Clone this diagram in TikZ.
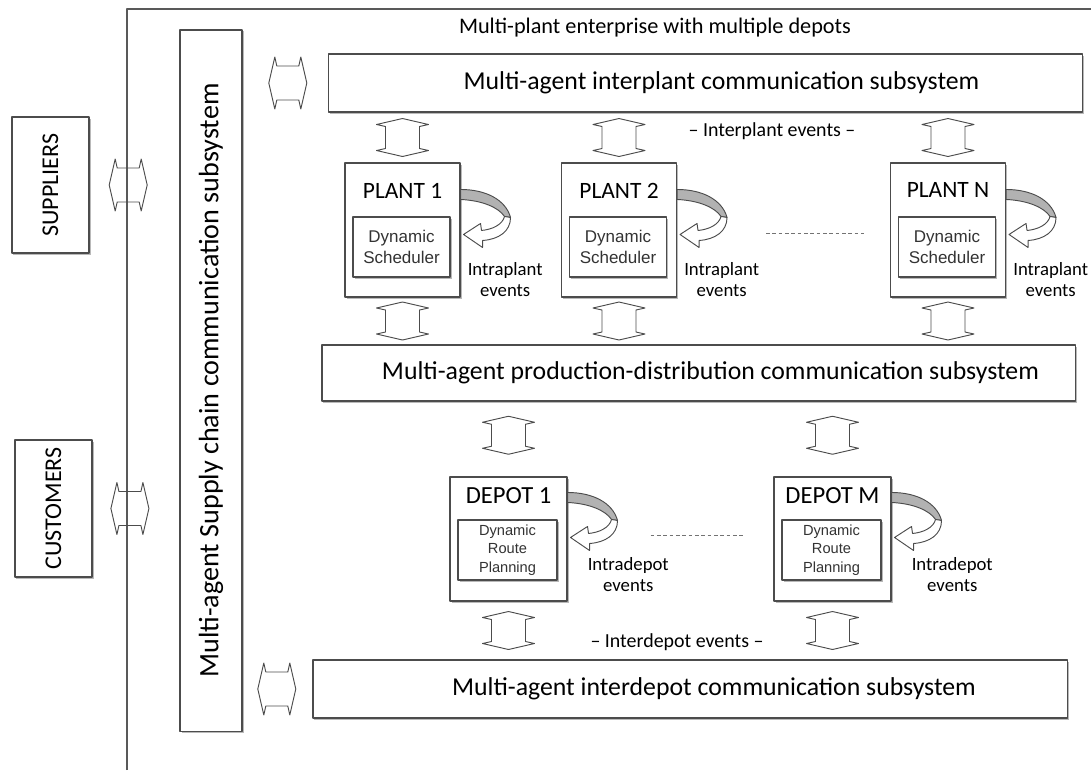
\documentclass[tikz,border=0pt]{standalone}
\usepackage{fontspec}
\setmainfont{Carlito}
\newfontfamily\arialfont{Liberation Sans}
\usetikzlibrary{calc,shadows}

\begin{document}
\begin{tikzpicture}[x=0.03cm, y=-0.03cm, line join=round]
    \tikzset{box/.style = {draw=black!70, line width=0.9pt, fill=white, inner sep=0pt,
        drop shadow={shadow xshift=0.45mm, shadow yshift=-0.45mm, fill=black!55}}}
    \tikzset{bar/.style = {box}}
    \tikzset{bartext/.style = {font=\fontsize{22}{26}\selectfont, inner sep=0pt}}
    \tikzset{unit/.style = {box, minimum width=34.5mm}}
    \tikzset{unitname/.style = {font=\fontsize{20}{24}\selectfont, inner sep=0pt}}
    \tikzset{inbox/.style = {box, align=center, text=black!80}}
    \tikzset{evt/.style = {font=\fontsize{16}{18}\selectfont, align=center, inner sep=0pt}}
    \tikzset{etc/.style = {draw=black!55, line width=0.8pt, dash pattern=on 1.1mm off 0.8mm}}
    \tikzset{dlink/.pic = {
        \draw[black!70, line width=0.8pt] (0,-19) -- (26,-13) -- (17,-11) -- (17,11) -- (26,13) -- (0,19)
            -- (-26,13) -- (-17,11) -- (-17,-11) -- (-26,-13) -- cycle;
    }}
    \tikzset{turnarrow/.pic = {
        \draw[black!70, line width=0.8pt, fill=black!30] (0,0) .. controls (25,0) and (45,10) .. (50,28)
            -- (44,27) .. controls (38,18) and (22,11) .. (0,10) -- cycle;
        \draw[black!70, line width=0.8pt, fill=white] (50,28) .. controls (50,42) and (38,50) .. (22,51)
            -- (22,58) -- (3,45) -- (20,34) -- (21,41) .. controls (32,40) and (42,35) .. (44,27) -- cycle;
    }}

    \useasboundingbox (0,0) rectangle (1091,770);

    % enterprise frame
    \draw[black!65, line width=0.9pt] (127,770) -- (127,9) -- (1091,9);
    \node[font=\fontsize{19}{22}\selectfont] (title) at (655,28) {Multi-plant enterprise with multiple depots};

    % outside partners
    \node[box, minimum width=23.1mm, minimum height=40.8mm, font=\fontsize{20.5}{24}\selectfont] (sup) at (50.5,185) {\rotatebox{90}{SUPPLIERS}};
    \node[box, minimum width=23.1mm, minimum height=41.1mm, font=\fontsize{20.5}{24}\selectfont] (cus) at (53.5,508.5) {\rotatebox{90}{CUSTOMERS}};

    % communication subsystems
    \node[bar, minimum width=18.6mm, minimum height=210.3mm, font=\fontsize{24}{28}\selectfont] (scc) at (211,380.5) {\rotatebox{90}{Multi-agent Supply chain communication subsystem}};
    \node[bar, minimum width=226.2mm, minimum height=17.4mm] (ip) at (705.5,83) {};
    \node[bar, minimum width=225.9mm, minimum height=16.8mm] (pd) at (698.5,373) {};
    \node[bar, minimum width=226.2mm, minimum height=17.4mm] (id) at (690,689) {};
    \node[bartext] (iptext) at ($(ip.center)+(16,0)$) {Multi-agent interplant communication subsystem};
    \node[bartext] (pdtext) at ($(pd.center)+(12,0)$) {Multi-agent production-distribution communication subsystem};
    \node[bartext] (idtext) at ($(id.center)+(24,0)$) {Multi-agent interdepot communication subsystem};

    % plants
    \node[unit, minimum height=40.2mm] (p1) at (402.5,230) {};
    \node[unit, minimum height=40.2mm] (p2) at (619,230) {};
    \node[unit, minimum height=40.2mm] (pN) at (948,230) {};
    \node[unitname] (p1name) at ($(p1.north)+(0,28)$) {PLANT 1};
    \node[unitname] (p2name) at ($(p2.north)+(0,28)$) {PLANT 2};
    \node[unitname] (pNname) at ($(pN.north)+(0,28)$) {PLANT N};
    \node[inbox, minimum width=29.1mm, minimum height=18mm, font=\arialfont\fontsize{14.5}{18}\selectfont] (s1) at ($(p1.center)+(-1,17)$) {Dynamic\\Scheduler};
    \node[inbox, minimum width=29.1mm, minimum height=18mm, font=\arialfont\fontsize{14.5}{18}\selectfont] (s2) at ($(p2.center)+(-1,17)$) {Dynamic\\Scheduler};
    \node[inbox, minimum width=29.1mm, minimum height=18mm, font=\arialfont\fontsize{14.5}{18}\selectfont] (sN) at ($(pN.center)+(-1,17)$) {Dynamic\\Scheduler};

    % depots
    \node[unit, minimum width=35.1mm, minimum height=37.2mm] (d1) at (508.5,539) {};
    \node[unit, minimum width=35.1mm, minimum height=37.2mm] (dM) at (832.5,539) {};
    \node[unitname, font=\fontsize{21}{24}\selectfont] (d1name) at ($(d1.north)+(0,19)$) {DEPOT 1};
    \node[unitname, font=\fontsize{21}{24}\selectfont] (dMname) at ($(dM.north)+(0,19)$) {DEPOT M};
    \node[inbox, minimum width=29.7mm, minimum height=18mm, font=\arialfont\fontsize{12.5}{16}\selectfont] (r1) at ($(d1.center)+(-1,11)$) {Dynamic\\Route\\Planning};
    \node[inbox, minimum width=29.7mm, minimum height=18mm, font=\arialfont\fontsize{12.5}{16}\selectfont] (rM) at ($(dM.center)+(-1,11)$) {Dynamic\\Route\\Planning};

    % links
    \pic[rotate=90] at ($(sup.east)!0.43!(sup.east -| scc.west)$) {dlink};
    \pic[rotate=90] at ($(cus.east)!0.43!(cus.east -| scc.west)$) {dlink};
    \pic[rotate=90] at ($(scc.east |- ip.west)!0.53!(ip.west)$) {dlink};
    \pic[rotate=90] at ($(scc.east |- id.west)!0.49!(id.west)$) {dlink};
    \foreach \u in {p1,p2,pN}{
        \pic at ($(ip.south -| \u.north)!0.5!(\u.north)$) {dlink};
        \pic at ($(\u.south)!0.5!(\u.south |- pd.north)$) {dlink};
        \pic at ($(\u.north east)+(0,27)$) {turnarrow};
        \node[evt, anchor=west] at ($(\u.east)+(7,50)$) {Intraplant\\events};
    }
    \foreach \u in {d1,dM}{
        \pic at ($(pd.south -| \u.north)!0.45!(\u.north)$) {dlink};
        \pic at ($(\u.south)!0.5!(\u.south |- id.north)$) {dlink};
        \pic at ($(\u.north east)+(0,16)$) {turnarrow};
        \node[evt, anchor=west] at ($(\u.east)+(20,36)$) {Intradepot\\events};
    }

    % event flows
    \node[font=\fontsize{17}{20}\selectfont] (ipe) at (772,131) {-- Interplant events --};
    \node[font=\fontsize{17}{20}\selectfont] (ide) at (677,642) {-- Interdepot events --};
    \draw[etc] ($(p2.east)+(89,3)$) -- ($(pN.west)+(-26,3)$);
    \draw[etc] ($(d1.east)+(83,-4)$) -- ($(dM.west)+(-30,-4)$);
\end{tikzpicture}
\end{document}
